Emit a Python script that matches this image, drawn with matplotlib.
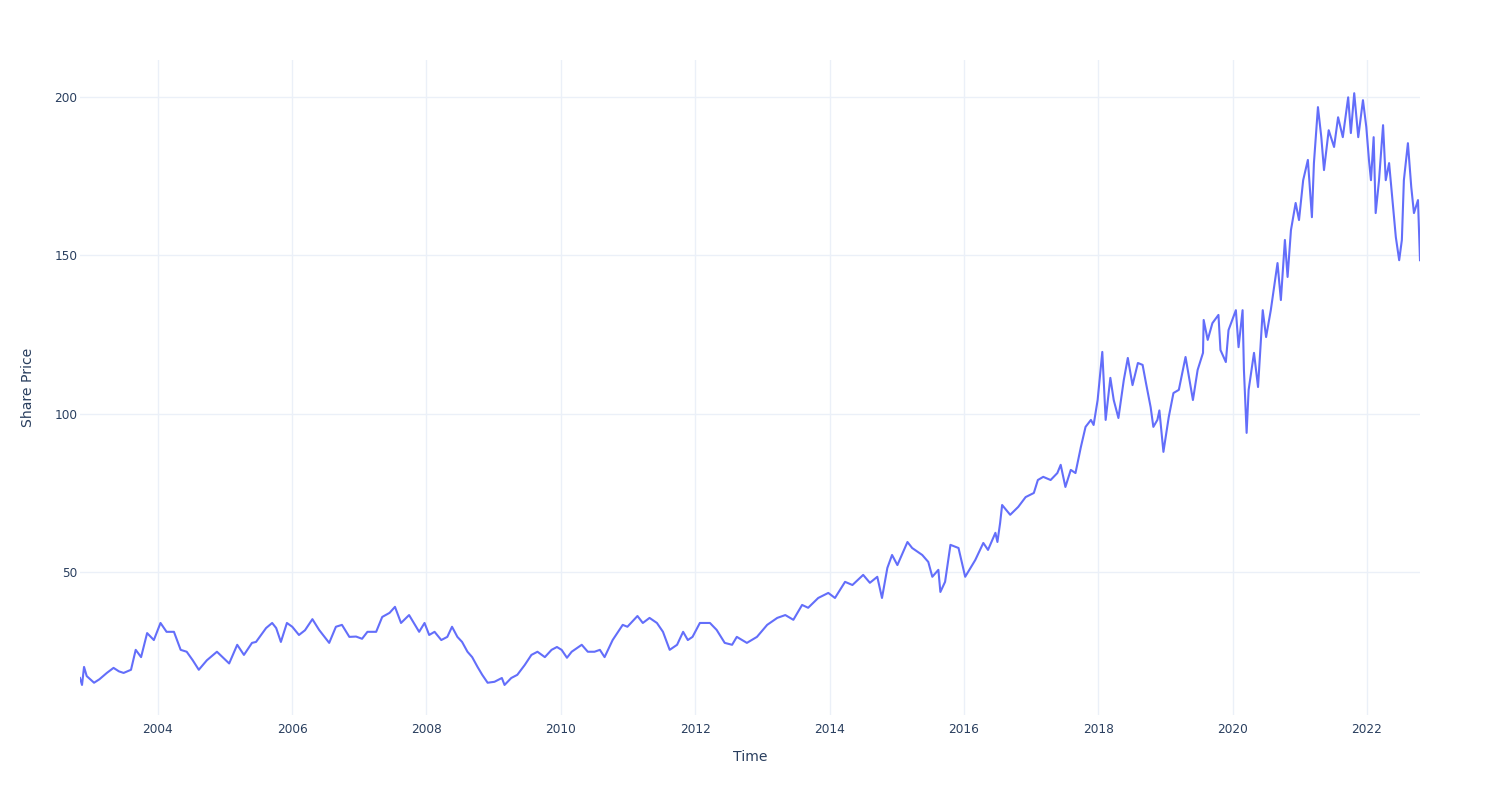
import numpy as np
import pandas as pd
import matplotlib
matplotlib.use("Agg")
import matplotlib.pyplot as plt
import matplotlib.dates as mdates

# decimal year / share price
t = [2002.84, 2002.87, 2002.90, 2002.94, 2003.05, 2003.13, 2003.24, 2003.34, 2003.42, 2003.49,
     2003.60, 2003.67, 2003.75, 2003.84, 2003.94, 2004.04, 2004.13, 2004.24, 2004.34, 2004.43,
     2004.52, 2004.61, 2004.73, 2004.88, 2005.06, 2005.18, 2005.28, 2005.40, 2005.46, 2005.61,
     2005.70, 2005.76, 2005.83, 2005.92, 2006.00, 2006.10, 2006.19, 2006.30, 2006.40, 2006.55,
     2006.65, 2006.74, 2006.85, 2006.95, 2007.04, 2007.12, 2007.25, 2007.34, 2007.45, 2007.53,
     2007.62, 2007.74, 2007.89, 2007.97, 2008.04, 2008.12, 2008.22, 2008.31, 2008.38, 2008.46,
     2008.53, 2008.61, 2008.68, 2008.76, 2008.83, 2008.91, 2009.01, 2009.12, 2009.16, 2009.26,
     2009.35, 2009.46, 2009.56, 2009.65, 2009.76, 2009.86, 2009.94, 2010.01, 2010.09, 2010.16,
     2010.31, 2010.40, 2010.50, 2010.58, 2010.65, 2010.77, 2010.92, 2010.99, 2011.14, 2011.22,
     2011.32, 2011.43, 2011.52, 2011.62, 2011.73, 2011.82, 2011.89, 2011.96, 2012.07, 2012.22,
     2012.32, 2012.44, 2012.55, 2012.62, 2012.77, 2012.92, 2013.07, 2013.22, 2013.34, 2013.46,
     2013.59, 2013.68, 2013.83, 2013.98, 2014.08, 2014.23, 2014.34, 2014.50, 2014.60, 2014.71,
     2014.78, 2014.86, 2014.93, 2015.01, 2015.16, 2015.23, 2015.38, 2015.47, 2015.53, 2015.62,
     2015.65, 2015.72, 2015.80, 2015.92, 2016.02, 2016.17, 2016.29, 2016.36, 2016.47, 2016.50,
     2016.54, 2016.57, 2016.69, 2016.81, 2016.92, 2017.04, 2017.10, 2017.18, 2017.29, 2017.39,
     2017.44, 2017.51, 2017.59, 2017.66, 2017.74, 2017.81, 2017.89, 2017.93, 2017.99, 2018.06,
     2018.11, 2018.18, 2018.23, 2018.30, 2018.38, 2018.44, 2018.51, 2018.59, 2018.66, 2018.71,
     2018.78, 2018.82, 2018.88, 2018.91, 2018.97, 2019.05, 2019.12, 2019.20, 2019.30, 2019.41,
     2019.48, 2019.56, 2019.57, 2019.63, 2019.70, 2019.79, 2019.82, 2019.90, 2019.94, 2020.05,
     2020.09, 2020.15, 2020.17, 2020.21, 2020.24, 2020.32, 2020.38, 2020.45, 2020.50, 2020.57,
     2020.67, 2020.72, 2020.78, 2020.82, 2020.87, 2020.94, 2020.99, 2021.05, 2021.12, 2021.18,
     2021.21, 2021.27, 2021.32, 2021.36, 2021.43, 2021.51, 2021.57, 2021.64, 2021.72, 2021.76,
     2021.81, 2021.87, 2021.94, 2021.99, 2022.03, 2022.06, 2022.10, 2022.13, 2022.18, 2022.24,
     2022.28, 2022.33, 2022.39, 2022.43, 2022.48, 2022.52, 2022.55, 2022.61, 2022.66, 2022.70,
     2022.76, 2022.79]
price = [16.4, 14.2, 19.9, 17.0, 14.9, 16.0, 18.0, 19.6, 18.5, 18.0,
         19.0, 25.3, 23.0, 30.6, 28.4, 33.8, 31.0, 31.0, 25.3, 24.7,
         22.0, 19.0, 22.0, 24.7, 21.0, 26.9, 23.7, 27.5, 27.8, 32.2,
         33.8, 32.2, 27.8, 33.8, 32.6, 30.0, 31.5, 35.0, 31.6, 27.5,
         32.6, 33.2, 29.4, 29.5, 28.8, 31.0, 31.0, 35.7, 37.0, 38.9,
         33.8, 36.3, 31.0, 33.8, 30.0, 31.0, 28.4, 29.4, 32.6, 29.4,
         27.8, 24.7, 23.0, 19.9, 17.4, 14.9, 15.2, 16.4, 14.2, 16.4,
         17.4, 20.5, 23.7, 24.7, 23.0, 25.3, 26.2, 25.3, 22.8, 24.7,
         26.9, 24.7, 24.7, 25.3, 23.0, 28.4, 33.2, 32.6, 36.0, 33.8,
         35.4, 33.8, 31.0, 25.3, 26.9, 31.0, 28.4, 29.4, 33.8, 33.8,
         31.6, 27.5, 26.9, 29.4, 27.5, 29.4, 33.2, 35.4, 36.3, 34.8,
         39.5, 38.6, 41.7, 43.3, 41.7, 46.8, 45.8, 49.0, 46.5, 48.4,
         41.7, 51.2, 55.3, 52.1, 59.4, 57.5, 55.3, 53.1, 48.4, 50.6,
         43.6, 46.8, 58.5, 57.5, 48.4, 53.7, 59.1, 56.9, 62.3, 59.4,
         65.4, 71.1, 68.0, 70.5, 73.6, 74.9, 79.0, 80.0, 79.0, 81.2,
         83.8, 76.8, 82.2, 81.2, 89.4, 95.8, 98.0, 96.4, 104.3, 119.5,
         98.0, 111.3, 104.3, 98.6, 110.6, 117.6, 109.0, 116.0, 115.4, 109.7,
         102.0, 95.8, 98.0, 101.0, 87.9, 98.9, 106.5, 107.5, 117.9, 104.3,
         113.8, 119.2, 129.6, 123.3, 128.6, 131.2, 120.1, 116.3, 126.4, 132.7,
         121.0, 132.7, 113.8, 93.9, 107.5, 119.2, 108.4, 132.7, 124.2, 132.7,
         147.6, 135.9, 154.9, 143.2, 158.0, 166.6, 161.2, 173.8, 180.2, 162.1,
         179.2, 196.9, 187.4, 177.0, 189.6, 184.3, 193.7, 187.4, 200.0, 188.7,
         201.3, 187.4, 199.1, 190.6, 180.2, 173.8, 187.4, 163.4, 173.8, 191.2,
         173.8, 179.2, 165.3, 155.8, 148.5, 154.9, 173.8, 185.5, 171.6, 163.4,
         167.5, 148.5]
y_ticks = [50, 100, 150, 200]


def to_date(dy):
    yr = int(np.floor(dy))
    return pd.Timestamp(year=yr, month=1, day=1) + pd.Timedelta(days=(dy - yr) * 365.25)


dates = [to_date(v) for v in t]

plt.rcParams['font.family'] = ['DejaVu Sans']
text_col = "#2a3f5f"
grid_col = "#EBF0F8"

fig = plt.figure(figsize=(15, 8), dpi=100)
ax = fig.add_axes([80 / 1500, 1 - 715 / 800, 1340 / 1500, 655 / 800])

ax.plot(dates, price, color="#636EFA", linewidth=1.5, zorder=3)

ax.set_xlim(dates[0], dates[-1])
ax.set_ylim(4.7, 211.8)
ax.set_yticks(y_ticks)
ax.xaxis.set_major_locator(mdates.YearLocator(2))
ax.xaxis.set_major_formatter(mdates.DateFormatter("%Y"))

ax.grid(True, color=grid_col, linewidth=1)
ax.set_axisbelow(True)
for s in ax.spines.values():
    s.set_visible(False)
ax.tick_params(length=0, labelsize=8.7, labelcolor=text_col)
ax.tick_params(axis="x", pad=6)
ax.tick_params(axis="y", pad=2)

ax.set_xlabel("Time", fontsize=10.1, color=text_col, labelpad=9.5)
ax.set_ylabel("Share Price", fontsize=10.1, color=text_col, labelpad=13.5)

fig.savefig("out.png", dpi=100, facecolor="white")
